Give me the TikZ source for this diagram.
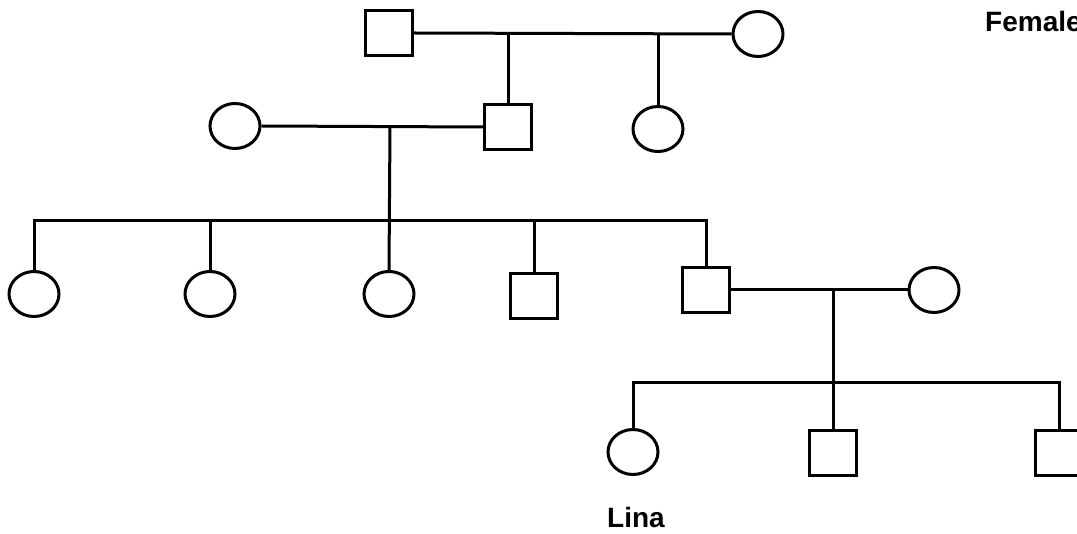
\documentclass[tikz,border=0pt]{standalone}
\usepackage{fontspec}
\setmainfont{Liberation Sans}
\usepackage{tikz}
\usetikzlibrary{shapes.geometric, positioning, calc}

\tikzset{
    male/.style={draw, rectangle, line width=3pt, minimum width=47pt, minimum height=45pt, inner sep=0pt},
    female/.style={draw, ellipse, line width=3pt, minimum width=50pt, minimum height=45pt, inner sep=0pt},
    tie/.style={line width=3pt},
    tag/.style={font=\fontsize{28}{32}\selectfont\bfseries}
}

\begin{document}
\begin{tikzpicture}[x=1pt, y=-1pt]
\useasboundingbox (0,0) rectangle (1077,534);

% First generation
\node[male] (ggpa) at (389,33) {};
\node[female] (ggma) at (758,34) {};
\draw[tie] (ggpa.east) -- (ggma.west);
\coordinate (j1) at (508,33);
\coordinate (j2) at (658,33);

% Second generation
\node[female] (gma) at (235,126) {};
\node[male] (gpa) at (508,127) {};
\node[female] (gaunt) at (658,129) {};
\draw[tie] (j1) -- (gpa.north);
\draw[tie] (j2) -- (gaunt.north);
\draw[tie] (gma.east) -- (gpa.west);
\coordinate (j3) at (390,126);

% Third generation
\node[female] (aunta) at (34,294) {};
\node[female] (auntb) at (210,294) {};
\node[female] (auntc) at (389,294) {};
\node[male] (uncle) at (534,296) {};
\node[male] (dad) at (706,290) {};
\node[female] (mum) at (934,290) {};
\coordinate (sib) at (390,221);
\draw[tie] (j3) -- (auntc.north);
\draw[tie] (aunta.north) -- (aunta.north |- sib) -- (dad.north |- sib) -- (dad.north);
\foreach \k in {auntb, uncle} {
    \draw[tie] (\k.north) -- (\k.north |- sib);
}
\draw[tie] (dad.east) -- (mum.west);
\coordinate (j4) at (833,290);

% Fourth generation
\node[female] (lina) at (633,452) {};
\node[male] (broa) at (833,453) {};
\node[male] (brob) at (1059,453) {};
\coordinate (sib2) at (833,383);
\draw[tie] (j4) -- (broa.north);
\draw[tie] (lina.north) -- (lina.north |- sib2) -- (brob.north |- sib2) -- (brob.north);

% Labels
\node[tag, anchor=base] (linalabel) at (636,527) {Lina};
\node[tag, anchor=base west, inner sep=0pt] (femalelabel) at (985,32) {Female};
\end{tikzpicture}
\end{document}
